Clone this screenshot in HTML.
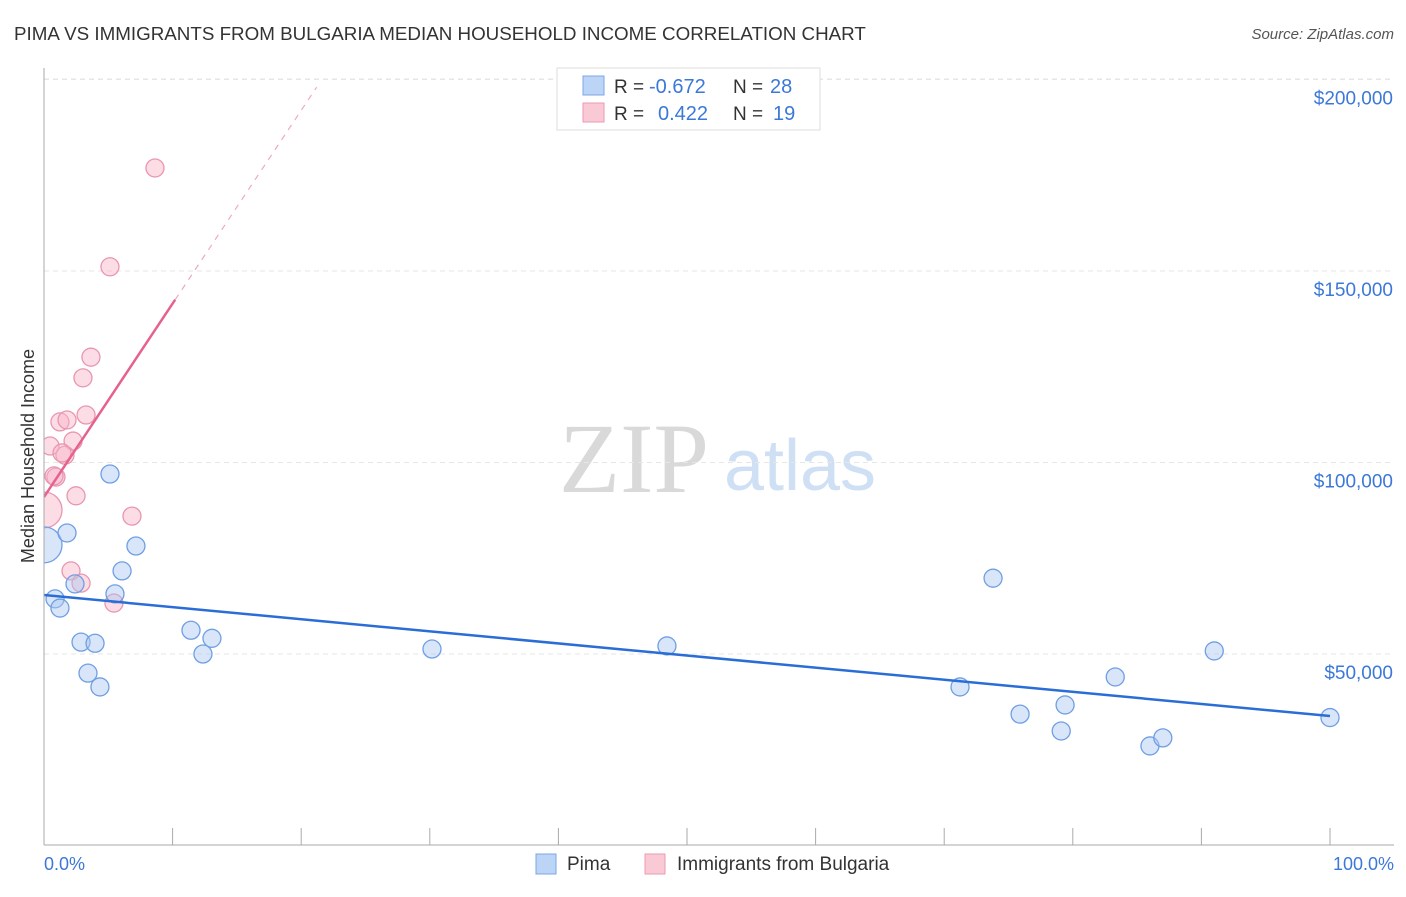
<!DOCTYPE html>
<html><head><meta charset="utf-8"><style>
body{margin:0;background:#fff;font-family:"Liberation Sans",sans-serif;}
</style></head><body>
<svg id="c" width="1406" height="892" viewBox="0 0 1406 892" xmlns="http://www.w3.org/2000/svg" font-family="Liberation Sans, sans-serif">
<text x="14" y="40" font-size="18.8" fill="#333">PIMA VS IMMIGRANTS FROM BULGARIA MEDIAN HOUSEHOLD INCOME CORRELATION CHART</text>
<text x="1394" y="39" font-size="15" fill="#555" text-anchor="end" font-style="italic">Source: ZipAtlas.com</text>
<g>
<text x="634" y="492" font-size="100" fill="#d9d9d9" text-anchor="middle" style="font-family:'Liberation Serif',serif">ZIP</text>
<text x="800" y="490" font-size="72" fill="#cfe0f5" text-anchor="middle">atlas</text>
</g>
<g id="grid"></g>
<svg x="44" y="0" width="1362" height="892" viewBox="44 0 1362 892" overflow="hidden"><g id="marks"></g></svg>
<g id="axes"></g>
<text transform="translate(34,456) rotate(-90)" font-size="18" fill="#333" text-anchor="middle">Median Household Income</text>
<text x="44" y="870" font-size="18" fill="#3b78d8">0.0%</text>
<text x="1394" y="870" font-size="18" fill="#3b78d8" text-anchor="end">100.0%</text>
<g>
<rect x="557" y="68" width="263" height="62" fill="#fff" stroke="#ddd"/>
<rect x="583" y="76" width="21" height="19" fill="#bcd4f5" stroke="#7aa7e6"/>
<rect x="583" y="103" width="21" height="19" fill="#f9c9d6" stroke="#eb9ab2"/>
<text x="614" y="93" font-size="19" fill="#333">R =</text>
<text x="649" y="93" font-size="20" fill="#3b78d8">-0.672</text>
<text x="733" y="93" font-size="19" fill="#333">N =</text>
<text x="770" y="93" font-size="20" fill="#3b78d8">28</text>
<text x="614" y="120" font-size="19" fill="#333">R =</text>
<text x="658" y="120" font-size="20" fill="#3b78d8">0.422</text>
<text x="733" y="120" font-size="19" fill="#333">N =</text>
<text x="773" y="120" font-size="20" fill="#3b78d8">19</text>
</g>
<g>
<rect x="536" y="854" width="20" height="20" fill="#bcd4f5" stroke="#7aa7e6"/>
<text x="567" y="870" font-size="19" fill="#333">Pima</text>
<rect x="645" y="854" width="20" height="20" fill="#f9c9d6" stroke="#eb9ab2"/>
<text x="677" y="870" font-size="19" fill="#333">Immigrants from Bulgaria</text>
</g>
</svg>
<script>
const yTicks=[50000,100000,150000,200000];
const yTickLabels=["$50,000","$100,000","$150,000","$200,000"];
const pimaX=[0,1.79,5.13,7.15,6.07,2.41,5.52,0.86,1.24,2.88,3.97,11.43,13.06,12.36,3.42,4.35,30.17,48.44,73.8,71.23,75.9,79.4,79.1,83.3,86.0,87.0,91.0,100];
const pimaY=[78.5,81.6,97.0,78.2,71.7,68.3,65.7,64.4,62.0,53.1,52.8,56.2,54.1,50.0,45.0,41.4,51.3,52.1,69.8,41.4,34.3,36.7,29.9,44.0,26.0,28.1,50.8,33.4];
const pimaR=[18,9,9,9,9,9,9,9,9,9,9,9,9,9,9,9,9,9,9,9,9,9,9,9,9,9,9,9];
const bulX=[8.63,5.13,3.65,3.03,3.27,1.24,1.79,2.26,0.47,1.63,0.93,2.49,0,6.84,2.1,2.88,5.44,1.4,0.78];
const bulY=[176.9,151.1,127.5,122.1,112.4,110.6,111.1,105.6,104.3,101.9,96.2,91.3,87.6,86.0,71.7,68.5,63.3,102.5,96.5];
const bulR=[9,9,9,9,9,9,9,9,9,9,9,9,18,9,9,9,9,9,9];
const pimaTrend=[[0,65.4],[100,33.8]];
const bulTrendSolid=[[0,91.0],[10.2,142.5]];
const bulTrendDash=[[10.2,142.5],[21.2,198]];
const NS='http://www.w3.org/2000/svg';
const X=p=>44+p*12.86;
const Y=v=>845.5-v/50000*191.5;
function mk(t,a,parent){const e=document.createElementNS(NS,t);for(const k in a)e.setAttribute(k,a[k]);parent.appendChild(e);return e;}
const grid=document.getElementById('grid'),axes=document.getElementById('axes'),marks=document.getElementById('marks');
yTicks.forEach((v,i)=>{
 const l=mk('line',{x1:44,x2:1394,y1:Y(v),y2:Y(v),stroke:'#e6e6e6','stroke-dasharray':'5,4'},grid);
 
 
 const t=mk('text',{x:1393,y:Y(v)+25,'font-size':19,fill:'#3b78d8','text-anchor':'end'},grid);
 t.textContent=yTickLabels[i];
 
 
});
const tg=mk('line',{x1:44,x2:1394,y1:79,y2:79,stroke:'#e6e6e6','stroke-dasharray':'5,4'},grid);


const ya=mk('line',{x1:44,x2:44,y1:68,y2:845,stroke:'#aaa'},axes);


const xa=mk('line',{x1:44,x2:1394,y1:845,y2:845,stroke:'#aaa'},axes);


for(let i=0;i<=10;i++){const t=mk('line',{x1:X(i*10),x2:X(i*10),y1:828,y2:845,stroke:'#aaa'},axes);
 
 }
function dots(xs,ys,rs,fill,stroke,name){xs.forEach((x,i)=>{const c=mk('circle',{cx:X(x),cy:Y(ys[i]*1000),r:rs[i],fill:fill,stroke:stroke,'stroke-width':1.3},marks);
 
 });}
dots(bulX,bulY,bulR,'rgba(248,180,200,0.45)','#e996b0','bulgaria-point');
dots(pimaX,pimaY,pimaR,'rgba(170,200,242,0.45)','#6f9fe3','pima-point');
function ln(p,st,dash,name,w){const a={x1:X(p[0][0]),y1:Y(p[0][1]*1000),x2:X(p[1][0]),y2:Y(p[1][1]*1000),stroke:st,'stroke-width':w};if(dash)a['stroke-dasharray']=dash;const l=mk('line',a,marks);
 
 }
ln(pimaTrend,'#2a6dd6',null,'pima-trend-line',2.5);
ln(bulTrendSolid,'#e6628e',null,'bulgaria-trend-line',2.5);
ln(bulTrendDash,'#eeaac0','6,6','bulgaria-trend-extension',1.2);
</script>
</body></html>
